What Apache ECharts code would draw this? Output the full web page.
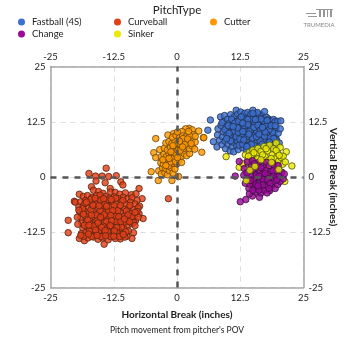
<!DOCTYPE html>
<html>
<head>
<meta charset="utf-8">
<style>
html, body { margin: 0; padding: 0; background: #fff; }
#chart { width: 354px; height: 354px; }
</style>
<script src="https://cdn.jsdelivr.net/npm/echarts@6/dist/echarts.min.js"></script>
</head>
<body>
<div id="chart"></div>
<script>
var tickLabels = [-25, -12.5, 0, 12.5, 25];
var pitchNames = ['Fastball (4S)', 'Curveball', 'Cutter', 'Change', 'Sinker'];

var fastball = [[6.6,12.9],[6.1,10.6],[7.2,8],[7.9,6.8],[8,9.5],[8.1,10.9],[8.4,8.3],[8.6,13.6],[8.7,11.7],[8.9,7.3],[9,9.1],[9.2,10.2],[9.3,12.6],[9.4,13.9],[9.5,8.1],[9.6,6.4],[9.7,11.2],[9.9,9.6],[10,13.1],[10.1,7.4],[10.2,10.5],[10.3,12.1],[10.4,8.7],[10.5,5.9],[10.6,14.1],[10.7,11.3],[10.8,9.4],[10.9,6.9],[11,12.8],[11,7.9],[11.1,10.2],[11.2,5.7],[11.3,13.6],[11.4,8.6],[11.5,11.8],[11.6,9.8],[11.7,15.1],[11.8,7],[11.8,12.6],[11.9,10.7],[12,14.2],[12,8.1],[12.1,6.2],[12.2,11.4],[12.3,9.2],[12.4,13.3],[12.5,10.1],[12.6,7.5],[12.6,14.7],[12.7,12.2],[12.8,8.7],[12.9,11],[13,6.6],[13,13.8],[13.1,9.7],[13.2,12.9],[13.3,7.9],[13.3,10.6],[13.4,14.4],[13.5,8.9],[13.6,11.7],[13.7,6.1],[13.7,13.2],[13.8,9.9],[13.9,12.4],[14,7.3],[14,14.6],[14.1,10.9],[14.2,8.4],[14.3,13.5],[14.3,11.5],[14.4,9.1],[14.5,6.5],[14.6,12.7],[14.6,14.2],[14.7,10.2],[14.8,7.9],[14.9,11.9],[15,15.1],[15,9.5],[15.1,13.4],[15.2,8.6],[15.3,10.8],[15.3,12.5],[15.4,6.9],[15.5,14.1],[15.6,9.8],[15.6,11.5],[15.7,7.8],[15.8,13],[15.9,10.4],[16,8.9],[16,14.3],[16.1,12.1],[16.2,6.8],[16.3,11],[16.3,13.6],[16.4,9.4],[16.5,7.7],[16.6,12.7],[16.7,10.3],[16.8,14],[16.9,8.6],[17,11.8],[17,13.3],[17.1,9.7],[17.2,7.2],[17.3,14.8],[17.3,10.8],[17.4,12.4],[17.5,8.3],[17.6,11.2],[17.7,13.5],[17.8,9.4],[17.9,7.6],[18,12.1],[18,10.3],[18.1,13.1],[18.2,8.8],[18.3,11.4],[18.4,6.9],[18.5,9.8],[18.6,12.8],[18.7,10.8],[18.8,8.4],[18.9,11.9],[19,9.5],[19.1,13],[19.2,7.8],[19.3,10.4],[19.4,12.5],[19.5,8.9],[19.6,11.1],[19.7,8.3],[19.9,12.6],[20,9.9],[20.2,7.7],[20.4,10.9],[20.5,12.7],[8.9,12.3],[9.5,10.7],[10.8,13.1],[11.4,12.2],[12.3,7.2],[12.9,9.6],[13.9,9.2],[14.8,13],[15.7,10.5],[16.6,9.1],[17.5,11.7],[18.4,9.1],[13.4,11.2],[14.5,11.2],[15.4,12.2],[16.2,12.4],[12.2,12.6],[11.3,10.4],[10.3,9.9],[13,7.4],[14.2,7.1],[15.2,7.2],[16.4,8.2],[17.7,10],[18.9,10.1],[19,7.2],[12.7,13.6],[14,13],[15.9,14.6],[17.1,12.7],[10.1,11.6],[10.6,8.2],[11.7,9.1],[12.1,10.1],[12.4,8.6],[13.2,8.4],[13.6,10.3],[14,11.9],[14.4,10.3],[14.9,8.8],[15.2,11.2],[15.7,9.1],[16,11.7],[16.5,10.6],[16.8,7.4],[17.3,9.2],[17.8,12.8],[18.2,10.7],[18.6,11.6],[19.1,8.7],[19.4,11.6],[12,11.1],[13,12.2],[15,14.4],[16.6,13.1],[18.3,7.9],[11.1,11.4],[9.8,8.7],[14.7,7.4],[13.8,6.9],[16.2,9.7],[17.4,10.2],[13,10.3],[14.2,9.7],[15.5,13],[16.9,11.2]];

var curveball = [[-14,2],[-17.4,.8],[-16.1,.2],[-14.8,.2],[-12,.3],[-16,-.9],[-14.2,-1.3],[-13.5,.1],[-11.1,-1.1],[-10.7,-1.8],[-7.5,-2.6],[-16.9,-2.2],[-13.2,-2.6],[-19.3,-3.9],[-20.3,-5.5],[-20.1,-5.7],[-6.9,-4.9],[-21.5,-9.8],[-6.7,-9.4],[-21.5,-12.6],[-19.3,-13.9],[-18.3,-14.4],[-14.4,-15.2],[-8.6,-12.6],[-8.9,-13.9],[-1.7,-4.9],[-16.5,-3],[-15.5,-3.3],[-14.6,-3.7],[-13.1,-3.4],[-12.2,-3.5],[-11.3,-3.9],[-10.2,-3.6],[-9,-4],[-8.1,-3.8],[-18.5,-4.4],[-17.7,-4.2],[-16.8,-4.6],[-15.9,-4.2],[-15,-4.7],[-14.1,-4.4],[-13.3,-4.8],[-12.4,-4.5],[-11.5,-4.9],[-10.6,-4.6],[-9.8,-5],[-8.9,-4.7],[-7.9,-5.3],[-19,-5.6],[-18.1,-5.3],[-17.3,-5.8],[-16.3,-5.4],[-15.5,-5.9],[-14.6,-5.5],[-13.7,-6],[-12.8,-5.6],[-11.9,-6],[-11,-5.6],[-10.1,-6.1],[-9.2,-5.7],[-8.3,-6.1],[-7.4,-6.6],[-19.4,-6.8],[-18.5,-6.5],[-17.6,-7],[-16.7,-6.6],[-15.8,-7.1],[-14.9,-6.7],[-14,-7.2],[-13.1,-6.8],[-12.2,-7.3],[-11.3,-6.9],[-10.4,-7.3],[-9.5,-6.9],[-8.6,-7.4],[-7.7,-7],[-19.2,-8],[-18.3,-7.7],[-17.4,-8.2],[-16.5,-7.8],[-15.6,-8.3],[-14.7,-7.9],[-13.8,-8.4],[-12.9,-8],[-12,-8.5],[-11.1,-8.1],[-10.2,-8.6],[-9.3,-8.2],[-8.4,-8.7],[-7.5,-8.3],[-19,-9.2],[-18.1,-8.9],[-17.2,-9.4],[-16.3,-9],[-15.4,-9.5],[-14.5,-9.1],[-13.6,-9.6],[-12.7,-9.2],[-11.8,-9.7],[-10.9,-9.3],[-10,-9.8],[-9.1,-9.4],[-8.2,-9.9],[-18.8,-10.4],[-17.9,-10.1],[-17,-10.6],[-16.1,-10.2],[-15.2,-10.7],[-14.3,-10.3],[-13.4,-10.8],[-12.5,-10.4],[-11.6,-10.9],[-10.7,-10.5],[-9.8,-11],[-8.9,-10.6],[-18.6,-11.6],[-17.7,-11.3],[-16.8,-11.8],[-15.9,-11.4],[-15,-11.9],[-14.1,-11.5],[-13.2,-12],[-12.3,-11.6],[-11.4,-12.1],[-10.5,-11.7],[-9.6,-12.2],[-18.9,-12.8],[-18,-12.5],[-17.1,-13],[-16.2,-12.6],[-15.3,-13.1],[-14.4,-12.7],[-13.5,-13.2],[-12.6,-12.8],[-11.7,-13.3],[-10.8,-12.9],[-9.9,-13.4],[-17.6,-13.8],[-16.5,-13.6],[-15.6,-14.1],[-14.7,-13.8],[-13.6,-14.2],[-12.2,-13.9],[-11.2,-14],[-10.3,-13.6],[-18.2,-6],[-17,-5],[-15.2,-4.1],[-13.9,-5.2],[-12.1,-4.8],[-10.7,-5.3],[-9.3,-6.4],[-16.1,-6.1],[-14.3,-6.2],[-12.4,-6.5],[-11.7,-7.6],[-13.5,-7.7],[-15.2,-7.6],[-17,-7.4],[-18.7,-7.2],[-16,-8.6],[-14.1,-8.9],[-12.2,-8.9],[-10.6,-8.9],[-8.9,-9],[-17.6,-9.7],[-15.8,-9.9],[-13.9,-10.1],[-12,-10.1],[-10.3,-10.2],[-8.6,-10.3],[-18.3,-10.9],[-16.5,-11.1],[-14.6,-11.1],[-12.8,-11.3],[-11,-11.3],[-17.3,-12.2],[-15.5,-12.3],[-13.7,-12.4],[-11.9,-12.5],[-10.1,-12.4],[-16.9,-13.4],[-15,-13.5],[-13.1,-13.5],[-11.4,-13.5],[-7.9,-7.8],[-7.7,-9.1],[-8.3,-11],[-19.6,-10.7],[-19.7,-9.1],[-19.4,-7.5],[-18.4,-13.4],[-19,-13.2],[-17.9,-5.7],[-16.6,-6.4],[-15.1,-5.2],[-13,-5.1],[-11.2,-6.4],[-10,-7.7],[-12.7,-7.6],[-14.4,-8.5],[-16.9,-8.6],[-18.5,-8.4],[-15.1,-9.1],[-13.1,-8.7],[-11.5,-9],[-9.7,-8.6],[-17.4,-10.9],[-15.6,-10.4],[-12.9,-9.9],[-11.1,-10.1],[-9.4,-10.1],[-14.9,-11.4],[-13.2,-11],[-11.9,-11.4],[-16.1,-12],[-14.2,-12.1],[-12.4,-12.2],[-10.6,-13],[-12.5,-13.4],[-14.1,-13.3],[-15.8,-13.2],[-17.5,-12.9],[-13.9,-6.6],[-15.4,-6.5],[-10.4,-9.5],[-8.3,-8],[-16.2,-4.8],[-14.5,-4.9]];

var cutter = [[-4.2,8.7],[-4.6,5.5],[-4.2,4.4],[-5.1,1.2],[-3.7,-.8],[-1,-.8],[.3,.1],[4.9,5.6],[4.3,10.4],[5.2,8.9],[2.4,11],[-.7,9.8],[-1.8,9.5],[5.3,8.9],[1.7,10.9],[1,10.3],[3,10.7],[3.2,9.6],[-3.6,1.4],[-3.1,.7],[-2.9,2.1],[-2.4,1],[-2.2,1.9],[-1.9,.5],[-1.5,1.4],[-1.1,2.1],[-.8,.9],[-.4,1.8],[-3.2,3.2],[-2.7,2.9],[-2.3,3.7],[-1.8,3],[-1.4,3.9],[-.9,3.1],[-.5,3.9],[0,3],[.4,3.9],[.9,3.3],[-3.1,4.6],[-2.6,5.2],[-2.1,4.6],[-1.6,5.3],[-1.1,4.7],[-.6,5.4],[-.1,4.7],[.4,5.4],[.9,4.7],[1.4,5.3],[1.9,4.8],[2.5,5.3],[-3.4,6.2],[-2.5,6.5],[-1.9,6.1],[-1.3,6.8],[-.7,6.2],[-.2,6.9],[.3,6.3],[.8,7],[1.3,6.4],[1.9,7],[2.5,6.4],[3,7],[3.5,6.3],[-2.2,7.7],[-1.6,8],[-1,7.6],[-.4,8.2],[.2,7.7],[.7,8.3],[1.3,7.8],[1.8,8.4],[2.4,7.9],[3,8.4],[3.6,7.9],[-.9,9],[-.2,9.4],[.5,9],[1.1,9.3],[1.8,9.1],[2.5,9.3],[3.6,9.2],[.1,10.2],[2.3,10.3],[-1.7,2.5],[-1.2,3.4],[-.7,4.3],[-.2,5.2],[.2,6],[.7,7.4],[1.2,8.7],[1.6,7.4],[2.1,8.6],[-.3,3.5],[.1,4.4],[.6,5.9],[1.1,6.8],[-1.6,4.2],[-1.2,5.7],[-.8,7.1],[-2.2,2.6],[-2.8,3.9],[.5,8.1],[2.8,7.6]];

var change = [[11.5,.2],[12.5,-5.6],[13.6,-5.1],[14.9,-4.3],[16.3,-4.6],[12.3,3.5],[13.2,.4],[13.3,1.9],[13.5,-1.4],[13.9,3.4],[14,-.4],[14.1,1.1],[14.2,-2.6],[14.3,-3.8],[14.6,.3],[14.7,2.3],[14.8,-1.2],[14.9,3.7],[15.2,-.4],[15.3,1.2],[15.4,-2.3],[15.5,-3.4],[15.7,.5],[15.8,2.6],[16,-1.2],[16.1,3.3],[16.3,-.2],[16.4,1.4],[16.5,-2.4],[16.6,-3.6],[16.8,.6],[17,2.4],[17.1,-1],[17.2,-3],[17.4,-.1],[17.5,1.5],[17.6,-2],[17.7,3.3],[18,.5],[18.1,-1.1],[18.2,2.5],[18.3,-3.1],[18.5,-.2],[18.6,1.3],[18.7,-2.1],[18.9,3.1],[19.1,.4],[19.2,-1],[19.3,2.2],[19.4,-2.6],[19.6,-.1],[19.7,1.2],[19.9,-1.7],[20,2.6],[20.2,.2],[20.4,-1],[20.7,1.1],[21,-.4],[21.2,.7],[15,-3],[16.2,-3],[17.8,-3.6],[15.1,-.9],[17,-.5],[14.4,-1.6],[15,1.7],[15.6,-1.7],[16.2,.2],[16.9,-1.8],[17.4,.8],[17.9,-.6],[18.4,-1.5],[19,1.4],[19.7,-.7],[13.8,.9],[14.5,-.8],[16,-2],[18.2,-2.6],[16.6,2.1],[15.3,3]];

var sinker = [[9.7,4.6],[21.6,5.7],[22.7,2.5],[19.6,7.7],[21.3,-1],[12.3,2.2],[13,3],[13.5,5],[13.9,1.9],[14,3.9],[14.3,5.6],[14.6,2.9],[14.9,4.6],[15,6.1],[15.3,1.4],[15.5,3.6],[15.7,5.2],[16,2.6],[16,6.5],[16.2,4.2],[16.6,5.8],[16.8,1.9],[17,3.4],[17.2,6.9],[17.4,4.6],[17.7,2.6],[17.9,5.9],[18.1,3.8],[18.3,7.2],[18.5,1.8],[18.8,5],[19,3.1],[19.1,6.4],[19.4,4.1],[19.7,2.6],[19.9,5.4],[20.1,3.6],[20.4,6.7],[20.6,4.4],[20.9,2.9],[21,4.7],[21.4,3.4],[14.7,5],[15.9,4.1],[16.9,5],[17.6,6.4],[18.6,4.2],[19.6,6],[20.2,4.9],[14.1,4.7],[15.2,5.5]];

// these few sit on top of the purple ones
var sinkerTop = [[13.7,-.8],[15.4,2.4],[18.7,3.3],[20.1,1.7],[16.6,3.9],[14.4,1.5]];

function dotSeries(name, list, color, border) {
	return {
		name: name,
		type: 'scatter',
		data: list,
		symbolSize: 6.5,
		itemStyle: { color: color, opacity: 0.82, borderColor: border, borderWidth: 1 },
		emphasis: { disabled: true }
	};
}

function edgeAxis(pos, index) {
	return {
		type: 'value',
		position: pos,
		min: -25,
		max: 25,
		interval: 12.5,
		axisLine: { show: true, onZero: false, lineStyle: { color: '#a6a6a6', width: 1.5 } },
		axisTick: { show: false },
		axisLabel: {
			show: true,
			color: '#222',
			fontFamily: 'Lato',
			fontSize: 9.5,
			margin: 5,
			formatter: function(v) { return tickLabels.indexOf(v) > -1 ? String(v) : ''; }
		},
		splitLine: { show: index == 0, lineStyle: { color: '#dddddd', type: [5, 5], width: 1 } }
	};
}

var chart = echarts.init(document.getElementById('chart'));
var legendStyle = {
	orient: 'vertical',
	top: 17,
	icon: 'circle',
	itemWidth: 7,
	itemHeight: 7,
	itemGap: 2,
	padding: 0,
	itemStyle: { borderWidth: 0, opacity: 1 },
	textStyle: { color: '#222', fontFamily: 'Lato', fontSize: 9.5, padding: [0, 0, 0, 2] }
};
var zeroLines = {
	silent: true,
	symbol: 'none',
	label: { show: false },
	lineStyle: { color: '#555', type: [6, 6], width: 2.5, opacity: 1 },
	data: [{ xAxis: 0 }, { yAxis: 0 }],
	animation: false
};
var series = [{
	type: 'scatter',
	data: [],
	markLine: zeroLines
}, dotSeries(pitchNames[0], fastball, '#3b6fd0', '#23324f'),
	dotSeries(pitchNames[1], curveball, '#e23f17', '#5a2312'),
	dotSeries(pitchNames[2], cutter, '#ff9800', '#6a4508'),
	dotSeries(pitchNames[4], sinker, '#eaea00', '#55550c'),
	dotSeries(pitchNames[3], change, '#9c0a9c', '#3d103d'),
	dotSeries(pitchNames[4], sinkerTop, '#eaea00', '#55550c')
];

chart.setOption({
	animation: false,
	title: [
		{ text: 'PitchType', left: 177, top: 4, padding: 0, textAlign: 'center', textStyle: { color: '#222', fontFamily: 'Lato', fontSize: 11.5, fontWeight: 'normal' } },
		{ text: 'Pitch movement from pitcher\'s POV', left: 177, top: 326, padding: 0, textAlign: 'center', textStyle: { color: '#222', fontFamily: 'Lato', fontSize: 8.5, fontWeight: 'normal' } },
		{ text: 'Horizontal Break (inches)', left: 177, top: 310, padding: 0, textAlign: 'center', textStyle: { color: '#222', fontFamily: 'Lato', fontSize: 10, fontWeight: 'bold' } },
		{ text: 'TRUMEDIA', left: 319, top: 22, padding: 0, textAlign: 'center', textStyle: { color: '#888', fontFamily: 'Lato', fontSize: 6, fontWeight: 'normal', letterSpacing: 1.5 } }
	],
	legend: [
		Object.assign({ left: 18, data: [pitchNames[0], pitchNames[3]] }, legendStyle),
		Object.assign({ left: 114, data: [pitchNames[1], pitchNames[4]] }, legendStyle),
		Object.assign({ left: 210, data: [pitchNames[2]] }, legendStyle)
	],
	grid: { left: 50.5, right: 50.5, top: 66.5, bottom: 66.5, containLabel: false },
	xAxis: [edgeAxis('bottom', 0), edgeAxis('top', 1)],
	yAxis: [edgeAxis('left', 0), edgeAxis('right', 1)],
	series: series,
	graphic: [
		{ type: 'text', rotation: -Math.PI / 2, x: 333, y: 177, style: { text: 'Vertical Break (inches)', fill: '#222', font: 'bold 10px Lato', align: 'center', verticalAlign: 'middle' } },
		{ type: 'rect', shape: { x: 306, y: 13, width: 10, height: 1 }, style: { fill: '#999' } },
		{ type: 'rect', shape: { x: 308, y: 16, width: 9, height: 1 }, style: { fill: '#999' } },
		{ type: 'rect', shape: { x: 316, y: 9, width: 17, height: 1 }, style: { fill: '#999' } },
		{ type: 'rect', shape: { x: 319, y: 10, width: 2, height: 7 }, style: { fill: '#999' } },
		{ type: 'rect', shape: { x: 323, y: 10, width: 2, height: 7 }, style: { fill: '#999' } },
		{ type: 'rect', shape: { x: 327, y: 10, width: 1, height: 7 }, style: { fill: '#999' } },
		{ type: 'rect', shape: { x: 330, y: 10, width: 2, height: 7 }, style: { fill: '#999' } }
	]
});
</script>
</body>
</html>
